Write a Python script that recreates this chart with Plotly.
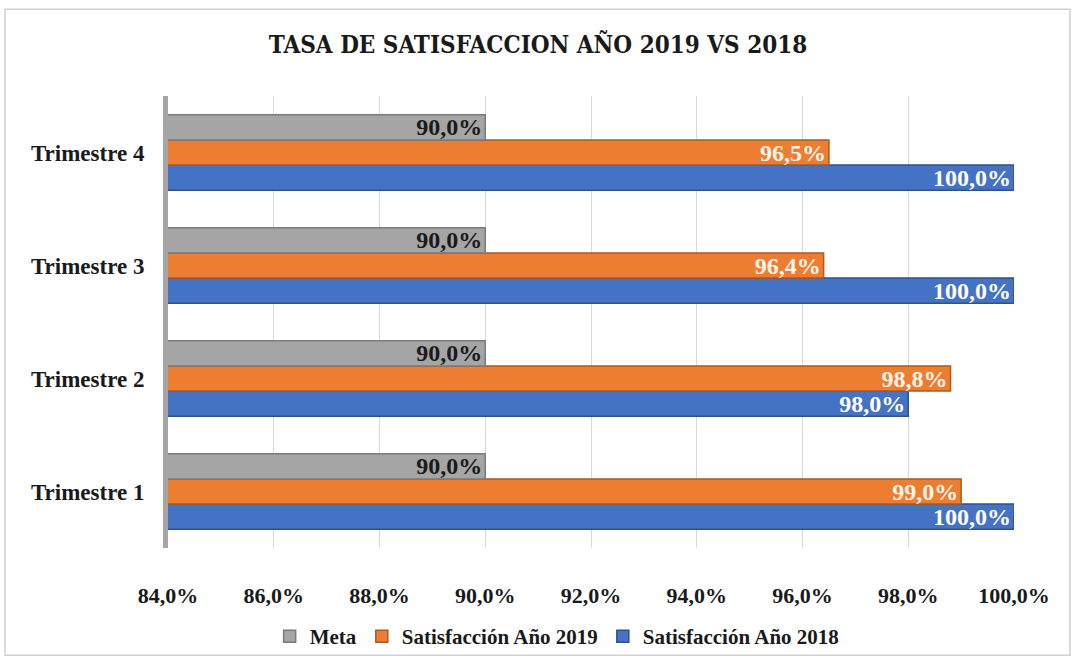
import plotly.graph_objects as go

categories = ["Trimestre 1", "Trimestre 2", "Trimestre 3", "Trimestre 4"]
meta = [90.0, 90.0, 90.0, 90.0]
sat_2019 = [99.0, 98.8, 96.4, 96.5]
sat_2018 = [100.0, 98.0, 100.0, 100.0]
x_ticks = [84, 86, 88, 90, 92, 94, 96, 98, 100]
x_tick_text = [f"{v:.1f}%".replace(".", ",") for v in x_ticks]

W, H = 1076, 669
ml, mr, mt, mb = 168, 62, 96, 114
pw, ph = W - ml - mr, H - mt - mb

lab_font = "Liberation Serif"
fig = go.Figure()
series = [
    ("Satisfacción Año 2018", sat_2018, "#4472c4", "#2f528f", "white"),
    ("Satisfacción Año 2019", sat_2019, "#ed7d31", "#ae5a21", "#fff4e8"),
    ("Meta", meta, "#a5a5a5", "#7b7b7b", "#1a1a1a"),
]
for name, vals, col, edge, tcol in series:
    fig.add_trace(go.Bar(
        y=categories, x=vals, name=name, orientation="h",
        marker=dict(color=col, line=dict(color=edge, width=1.5)),
        text=vals, texttemplate="%{x:.1f}%", textposition="inside",
        insidetextanchor="end",
        textfont=dict(family=lab_font, size=24, color=tcol, weight="bold"),
        constraintext="none",
    ))

fig.update_layout(
    width=W, height=H,
    margin=dict(l=ml, r=mr, t=mt, b=mb),
    paper_bgcolor="white", plot_bgcolor="white",
    separators=",.",
    barmode="group", bargap=0.33, bargroupgap=0.0,
    title=dict(text="<b>TASA DE SATISFACCION AÑO 2019 VS 2018</b>",
               x=0.5, xanchor="center", y=1 - 45 / H, yanchor="middle",
               font=dict(family="DejaVu Serif Condensed", size=24, color="#1a1a1a")),
    xaxis=dict(range=[84, 100], tickvals=x_ticks, ticktext=x_tick_text,
               showgrid=True, gridcolor="#d9d9d9", gridwidth=1, zeroline=False,
               tickfont=dict(family=lab_font, size=22, color="#1a1a1a", weight="bold"),
               ticklabelstandoff=32, showline=False),
    yaxis=dict(showline=True, linecolor="#a6a6a6", linewidth=5,
               tickfont=dict(family=lab_font, size=23, color="#1a1a1a", weight="bold"),
               ticklabelstandoff=14),
    legend=dict(orientation="h", traceorder="reversed", x=0.46, xanchor="center",
                y=-(645 - (H - mb)) / ph, yanchor="middle",
                bgcolor="rgba(0,0,0,0)",
                font=dict(family=lab_font, size=21, color="#1a1a1a", weight="bold"),
                itemwidth=30),
    showlegend=True,
)
fig.add_shape(type="rect", xref="paper", yref="paper",
              x0=(5 - ml) / pw, x1=(1070 - ml) / pw,
              y0=-(664 - (H - mb)) / ph, y1=1 + (mt - 8) / ph,
              line=dict(color="#d0d0d0", width=1.5), layer="below")
fig.write_html("out.html")
